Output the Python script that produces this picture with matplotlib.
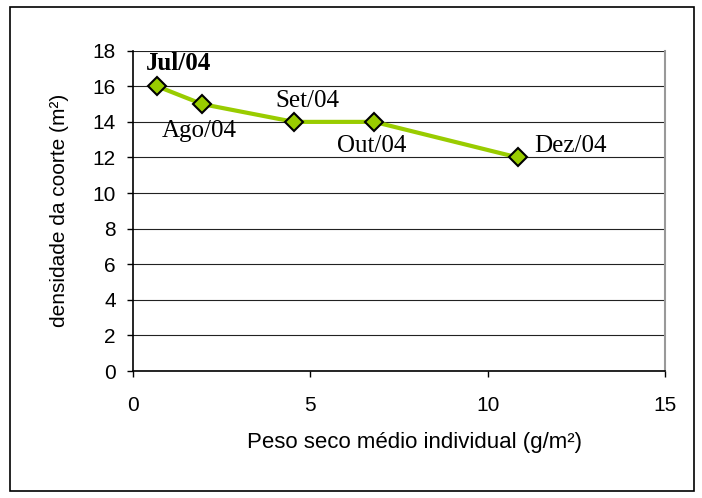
import matplotlib.pyplot as plt

# data
peso = [0.68, 1.95, 4.54, 6.80, 10.85]
densidade = [16, 15, 14, 14, 12]
meses = ["Jul/04", "Ago/04", "Set/04", "Out/04", "Dez/04"]
# label offsets (points) and alignment per point
offsets = [(15.5, 16.5), (-2, -19.5), (9.7, 14.8), (-2, -17.6), (12, 8.6)]
aligns = ["center", "center", "center", "center", "left"]

fig = plt.figure(figsize=(7.02, 4.98), dpi=100)
# outer chart border
fig.patches.append(plt.Rectangle((10 / 702, 7 / 498), 684 / 702, 484 / 498, transform=fig.transFigure,
                                 fill=False, edgecolor="black", linewidth=1.2))
ax = fig.add_axes([133 / 702, 1 - 371 / 498, 532 / 702, 320.3 / 498])

ax.plot(peso, densidade, color="#99CC00", linewidth=3, marker="D", markersize=9.5,
        markerfacecolor="#99CC00", markeredgecolor="black", markeredgewidth=1.5, zorder=3)

for i, m in enumerate(meses):
    ax.annotate(m, (peso[i], densidade[i]), xytext=offsets[i], textcoords="offset points",
                ha=aligns[i], va="center", fontsize=18, family="Liberation Serif",
                fontweight="bold" if i == 0 else "normal")

ax.set_xlim(0, 15)
ax.set_ylim(0, 18)
ax.set_xticks([0, 5, 10, 15])
ax.set_yticks(range(0, 19, 2))
ax.yaxis.grid(True, color="#222222", linewidth=0.8)
ax.set_axisbelow(True)
ax.spines["top"].set_visible(False)
ax.spines["right"].set_color("#999999")
ax.spines["right"].set_linewidth(1.5)
ax.spines["left"].set_linewidth(1.2)
ax.spines["bottom"].set_linewidth(1.2)
ax.tick_params(labelsize=15, length=4.3, width=1, direction="out")
for lab in ax.get_xticklabels() + ax.get_yticklabels():
    lab.set_family("Liberation Sans")
ax.tick_params(axis="x", pad=14)
ax.tick_params(axis="y", pad=8)

ax.set_xlabel("Peso seco médio individual (g/m²)", fontsize=16, family="Liberation Sans")
ax.set_ylabel("densidade da coorte (m²)", fontsize=15, family="Liberation Sans")
ax.xaxis.set_label_coords(0.53, -0.19)
ax.yaxis.set_label_coords(-0.12, 0.5)

fig.savefig("out.png", dpi=100)
